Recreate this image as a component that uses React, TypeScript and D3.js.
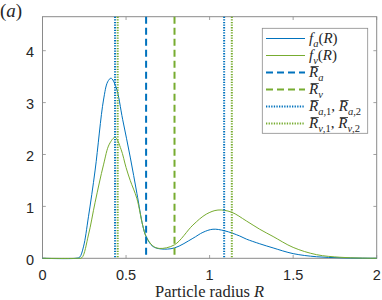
import React, { useRef, useEffect } from 'react';
import * as d3 from 'd3';

// f_a(R) samples
const faR = [0, 0.2, 0.222, 0.245, 0.275, 0.315, 0.365, 0.39, 0.41, 0.44, 0.48, 0.525, 0.565, 0.6, 0.62, 0.66, 0.71, 0.79, 0.9, 0.96, 1.02, 1.09, 1.18, 1.22, 1.3, 1.38, 1.5, 1.64, 1.78, 1.9, 2.0];
const faV = [0, 0, 0.02, 0.22, 0.8, 1.7, 3.05, 3.4, 3.47, 3.3, 2.67, 1.95, 1.25, 0.63, 0.42, 0.23, 0.18, 0.2, 0.385, 0.5, 0.56, 0.53, 0.43, 0.37, 0.28, 0.2, 0.09, 0.03, 0.01, 0.003, 0];

// f_v(R) samples
const fvR = [0, 0.21, 0.235, 0.275, 0.315, 0.365, 0.4, 0.435, 0.47, 0.5, 0.525, 0.565, 0.6, 0.62, 0.66, 0.7, 0.79, 0.9, 0.98, 1.05, 1.13, 1.22, 1.3, 1.38, 1.5, 1.64, 1.78, 1.9, 2.0];
const fvV = [0, 0, 0.01, 0.45, 1.08, 1.8, 2.2, 2.33, 2.1, 1.75, 1.5, 1.15, 0.63, 0.42, 0.24, 0.19, 0.26, 0.64, 0.85, 0.93, 0.89, 0.72, 0.56, 0.42, 0.21, 0.07, 0.02, 0.005, 0];

// mean radii
const Ra = 0.62;
const Rv = 0.79;
const Ra12 = [0.434, 1.087];
const Rv12 = [0.45, 1.133];

const xTicks = [0, 0.5, 1, 1.5, 2];
const xTickLabels = ['0', '0.5', '1', '1.5', '2'];
const yTicks = [0, 1, 2, 3, 4];
const yTickLabels = ['0', '1', '2', '3', '4'];

const BLUE = '#0072BD';
const GREEN = '#77AC30';
const AX = '#8a8a8a';
const TXT = '#262626';
const SERIF = { fontFamily: '"Liberation Serif", "DejaVu Serif", serif' };
const SANS = { fontFamily: '"Liberation Sans", "DejaVu Sans", sans-serif' };

const W = 382;
const H = 300;
const m = { left: 42.5, right: 376.7, top: 16.7, bottom: 258.3 };

const x = d3.scaleLinear().domain([0, 2]).range([m.left, m.right]);
const y = d3.scaleLinear().domain([0, 4.655]).range([m.bottom, m.top]);

const line = d3.line<[number, number]>()
  .x(d => x(d[0]))
  .y(d => Math.min(y(d[1]), m.bottom))
  .curve(d3.curveCatmullRom.alpha(0.5));

const faPts = faR.map((r, i) => [r, faV[i]] as [number, number]);
const fvPts = fvR.map((r, i) => [r, fvV[i]] as [number, number]);

const SUB = 3.5;
const SUBSIZE = 10.5;

// R with a bar drawn over it later (class rbar)
const RB = () => <tspan className="rbar" fontStyle="italic">R</tspan>;

// f_s(R)
const fLabel = (s: string) => (
  <>
    <tspan fontStyle="italic">f</tspan>
    <tspan dy={SUB} fontSize={SUBSIZE} fontStyle="italic">{s}</tspan>
    <tspan dy={-SUB}>(</tspan>
    <tspan fontStyle="italic">R</tspan>
    <tspan>)</tspan>
  </>
);

// R̄_s
const rLabel = (s: string) => (
  <>
    <RB />
    <tspan dy={SUB} fontSize={SUBSIZE} fontStyle="italic">{s}</tspan>
  </>
);

// R̄_{s,1}, R̄_{s,2}
const r12Label = (s: string) => (
  <>
    <RB />
    <tspan dy={SUB} fontSize={SUBSIZE} fontStyle="italic">{s}</tspan>
    <tspan fontSize={SUBSIZE}>,1</tspan>
    <tspan dy={-SUB}>, </tspan>
    <RB />
    <tspan dy={SUB} fontSize={SUBSIZE} fontStyle="italic">{s}</tspan>
    <tspan fontSize={SUBSIZE}>,2</tspan>
  </>
);

const DASH = '7,4';
const DOT = '1.3,1.3';

const legendItems = [
  { color: BLUE, dash: '', width: 1, label: fLabel('a') },
  { color: GREEN, dash: '', width: 1, label: fLabel('v') },
  { color: BLUE, dash: DASH, width: 2, label: rLabel('a') },
  { color: GREEN, dash: DASH, width: 2, label: rLabel('v') },
  { color: BLUE, dash: DOT, width: 2, label: r12Label('a') },
  { color: GREEN, dash: DOT, width: 2, label: r12Label('v') },
];

const vlines: { r: number; color: string; dash: string }[] = [
  { r: Ra, color: BLUE, dash: DASH },
  { r: Rv, color: GREEN, dash: DASH },
  ...Ra12.map(r => ({ r, color: BLUE, dash: DOT })),
  ...Rv12.map(r => ({ r, color: GREEN, dash: DOT })),
];

export default function App() {
  const svgRef = useRef<SVGSVGElement>(null);
  const tick = 3.3;
  const lg = { x0: 262.3, x1: 367.7, y0: 28.3, y1: 133.3, row0: 38.5, step: 17 };

  // draw the bars over the R's once the text is laid out
  useEffect(() => {
    if (!svgRef.current) return;
    const svg = d3.select(svgRef.current);
    svg.selectAll('.barline').remove();
    svg.selectAll<SVGTSpanElement, unknown>('tspan.rbar').each(function () {
      const b = this.getBBox();
      svg.append('line')
        .attr('class', 'barline')
        .attr('x1', b.x + 2.6)
        .attr('x2', b.x + b.width + 0.6)
        .attr('y1', b.y + 2.2)
        .attr('y2', b.y + 2.2)
        .attr('stroke', TXT)
        .attr('stroke-width', 0.8);
    });
  }, []);

  return (
    <svg ref={svgRef} width={W} height={H} style={{ position: 'absolute', left: 0, top: 0, background: '#fff' }}>
      {/* ticks on all four sides */}
      {xTicks.map(t => (
        <g key={'xt' + t} stroke={AX} strokeWidth={0.8}>
          <line x1={x(t)} x2={x(t)} y1={m.bottom} y2={m.bottom - tick} />
          <line x1={x(t)} x2={x(t)} y1={m.top} y2={m.top + tick} />
        </g>
      ))}
      {yTicks.map(t => (
        <g key={'yt' + t} stroke={AX} strokeWidth={0.8}>
          <line x1={m.left} x2={m.left + tick} y1={y(t)} y2={y(t)} />
          <line x1={m.right} x2={m.right - tick} y1={y(t)} y2={y(t)} />
        </g>
      ))}
      <rect x={m.left} y={m.top} width={m.right - m.left} height={m.bottom - m.top} fill="none" stroke={AX} strokeWidth={1} />

      {/* curves */}
      <path d={line(faPts) || ''} fill="none" stroke={BLUE} strokeWidth={1} />
      <path d={line(fvPts) || ''} fill="none" stroke={GREEN} strokeWidth={1} />

      {/* vertical reference lines */}
      {vlines.map((v, i) => (
        <line key={'v' + i} x1={x(v.r)} x2={x(v.r)} y1={m.top} y2={m.bottom}
          stroke={v.color} strokeWidth={2} strokeDasharray={v.dash} />
      ))}

      {/* tick labels */}
      {xTicks.map((t, i) => (
        <text key={'xl' + t} x={x(t)} y={279.5} textAnchor="middle" style={SANS} fontSize={14.5} fill={TXT}>{xTickLabels[i]}</text>
      ))}
      {yTicks.map((t, i) => (
        <text key={'yl' + t} x={34} y={y(t) + 6.3} textAnchor="end" style={SANS} fontSize={14.5} fill={TXT}>{yTickLabels[i]}</text>
      ))}

      <text x={(m.left + m.right) / 2} y={296.5} textAnchor="middle" style={SERIF} fontSize={16.5} fill={TXT}>
        Particle radius <tspan fontStyle="italic">R</tspan>
      </text>
      <text x={0} y={17} style={SERIF} fontSize={19} fill={TXT}>
        (<tspan fontStyle="italic">a</tspan>)
      </text>

      {/* legend */}
      <rect x={lg.x0} y={lg.y0} width={lg.x1 - lg.x0} height={lg.y1 - lg.y0} fill="#fff" stroke={AX} strokeWidth={0.8} />
      {legendItems.map((it, i) => {
        const yy = lg.row0 + i * lg.step;
        return (
          <g key={'lg' + i}>
            <line x1={266} x2={305} y1={yy} y2={yy} stroke={it.color} strokeWidth={it.width} strokeDasharray={it.dash} />
            <text x={309} y={yy + 4.8} style={SERIF} fontSize={15} fill={TXT}>{it.label}</text>
          </g>
        );
      })}
    </svg>
  );
}
